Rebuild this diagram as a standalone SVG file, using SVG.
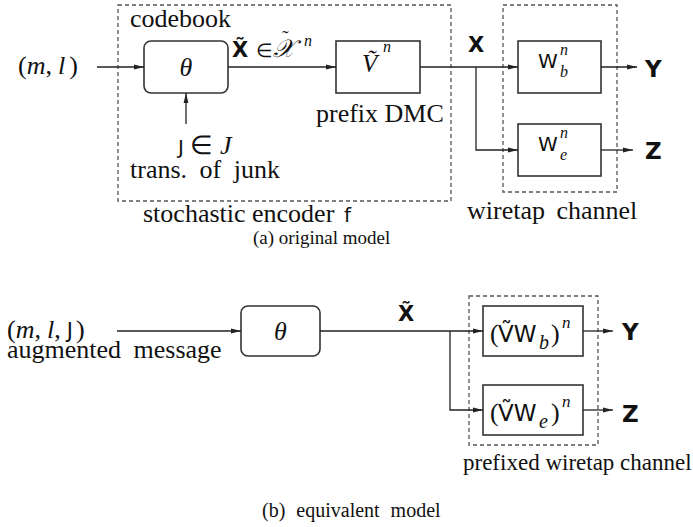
<svg xmlns="http://www.w3.org/2000/svg" width="693" height="527" viewBox="0 0 693 527">
<defs>
<style>
.t{font-family:"Liberation Serif","Times New Roman",serif;font-size:26px;fill:#111}
.cap{font-family:"Liberation Serif","Times New Roman",serif;font-size:19px;fill:#111}
.i{font-style:italic}
.s{font-family:"DejaVu Sans","Liberation Sans",sans-serif;font-size:20px;fill:#111;font-style:normal}
.b{font-family:"DejaVu Sans","Liberation Sans",sans-serif;font-weight:bold;font-size:21px;fill:#111}
.yz{font-size:23px}
.sub{font-family:"Liberation Serif",serif;font-style:italic;font-size:16px}
.sup{font-family:"Liberation Serif",serif;font-style:italic;font-size:16px;font-weight:normal}
.box{fill:#fff;stroke:#333;stroke-width:1.6}
.dash{fill:none;stroke:#555;stroke-width:1.3;stroke-dasharray:4 3}
.ln{fill:none;stroke:#222;stroke-width:1.3}
</style>
<marker id="ah" markerWidth="10" markerHeight="6" refX="10" refY="3" orient="auto" markerUnits="userSpaceOnUse">
<path d="M0,0.6 L10,3 L0,5.4 z" fill="#222"/>
</marker>
</defs>

<!-- ===== (a) original model ===== -->
<g id="encoder-frame">
<rect class="dash" x="118" y="5" width="333" height="196"/>
<text class="t" x="130" y="27">codebook</text>
<text class="t" x="143" y="222">stochastic encoder <tspan class="s" x="344">f</tspan></text>
</g>
<g id="wiretap-frame">
<rect class="dash" x="503" y="5" width="114" height="187"/>
<text class="t" x="467" y="219" style="word-spacing:5px">wiretap channel</text>
</g>

<g id="input-ml">
<text class="t" x="18" y="74">(<tspan class="i">m</tspan>,<tspan dx="6" class="i">l</tspan><tspan dx="4">)</tspan></text>
</g>
<g id="theta-a">
<rect class="box" x="144" y="41" width="84" height="52" rx="7"/>
<text class="t i" x="186" y="76" text-anchor="middle">θ</text>
</g>
<g id="junk">
<text class="t" x="178" y="154"><tspan class="s">J</tspan> ∈ <tspan class="i">J</tspan></text>
<text class="t" x="130" y="178" style="word-spacing:6px">trans. of junk</text>
</g>
<g id="xtilde-label">
<text class="t" x="232" y="57"><tspan class="b">X&#x303;</tspan><tspan x="256" style="font-size:19px">∈</tspan><tspan class="i" x="273" style="font-size:25px">𝒳</tspan><tspan x="282" y="45" style="font-size:20px">˜</tspan><tspan class="sup" x="304" y="46">n</tspan></text>
</g>
<g id="prefix-dmc">
<rect class="box" x="336" y="41" width="84" height="52"/>
<text class="t i" x="362" y="72" style="font-size:25px">V&#x303;<tspan class="sup" x="383" y="52">n</tspan></text>
<text class="t" x="316" y="122">prefix DMC</text>
</g>
<g id="x-label">
<text class="b" x="468" y="52">X</text>
</g>
<g id="wb">
<rect class="box" x="518" y="41" width="83" height="52"/>
<text class="s" x="538" y="68">W<tspan class="sub" x="560" y="77">b</tspan><tspan class="sup" x="560" y="55">n</tspan></text>
</g>
<g id="we">
<rect class="box" x="518" y="124" width="83" height="52"/>
<text class="s" x="538" y="151">W<tspan class="sub" x="560" y="160">e</tspan><tspan class="sup" x="560" y="138">n</tspan></text>
</g>
<g id="y-a"><text class="b yz" x="645" y="77">Y</text></g>
<g id="z-a"><text class="b yz" x="645" y="159">Z</text></g>
<g id="caption-a">
<text class="cap" x="253" y="244">(a) original model</text>
</g>

<!-- ===== (b) equivalent model ===== -->
<g id="input-mlj">
<text class="t" x="7" y="338">(<tspan class="i">m</tspan>,<tspan dx="6" class="i">l</tspan>,<tspan dx="6" class="s" style="font-size:21px">J</tspan><tspan dx="3">)</tspan></text>
<text class="t" x="7" y="358" style="word-spacing:6px">augmented message</text>
</g>
<g id="theta-b">
<rect class="box" x="241" y="306" width="79" height="50" rx="7"/>
<text class="t i" x="280.5" y="340" text-anchor="middle">θ</text>
</g>
<g id="xtilde-b">
<text class="b" x="398" y="321">X&#x303;</text>
</g>
<g id="prefixed-frame">
<rect class="dash" x="469" y="296" width="129" height="149"/>
<text class="t" x="463" y="470" style="font-size:23px">prefixed wiretap channel</text>
</g>
<g id="vwb">
<rect class="box" x="483" y="306" width="100" height="50"/>
<text class="t" x="490" y="342">(<tspan class="s" x="498" style="font-size:23px">V&#x303;W</tspan><tspan class="sub" x="539" y="349" style="font-size:20px">b</tspan><tspan x="551" y="342">)</tspan><tspan class="sup" x="562" y="328" style="font-size:17px">n</tspan></text>
</g>
<g id="vwe">
<rect class="box" x="483" y="385" width="100" height="50"/>
<text class="t" x="490" y="421">(<tspan class="s" x="498" style="font-size:23px">V&#x303;W</tspan><tspan class="sub" x="539" y="428" style="font-size:20px">e</tspan><tspan x="551" y="421">)</tspan><tspan class="sup" x="562" y="407" style="font-size:17px">n</tspan></text>
</g>
<g id="y-b"><text class="b yz" x="622" y="340">Y</text></g>
<g id="z-b"><text class="b yz" x="622" y="422">Z</text></g>
<g id="caption-b">
<text class="cap" x="262" y="517" style="font-size:20px;word-spacing:6px">(b) equivalent model</text>
</g>

<g id="connectors">
<line class="ln" x1="97" y1="67" x2="144" y2="67" marker-end="url(#ah)"/>
<line class="ln" x1="186" y1="124" x2="186" y2="93" marker-end="url(#ah)"/>
<line class="ln" x1="228" y1="67" x2="336" y2="67" marker-end="url(#ah)"/>
<line class="ln" x1="420" y1="67" x2="518" y2="67" marker-end="url(#ah)"/>
<polyline class="ln" points="476,67 476,150 518,150" marker-end="url(#ah)"/>
<line class="ln" x1="601" y1="67" x2="637" y2="67" marker-end="url(#ah)"/>
<line class="ln" x1="601" y1="150" x2="633" y2="150" marker-end="url(#ah)"/>
<line class="ln" x1="117" y1="331" x2="241" y2="331" marker-end="url(#ah)"/>
<line class="ln" x1="320" y1="331" x2="483" y2="331" marker-end="url(#ah)"/>
<polyline class="ln" points="450,331 450,410 483,410" marker-end="url(#ah)"/>
<line class="ln" x1="583" y1="331" x2="613" y2="331" marker-end="url(#ah)"/>
<line class="ln" x1="583" y1="410" x2="613" y2="410" marker-end="url(#ah)"/>
</g>
</svg>
